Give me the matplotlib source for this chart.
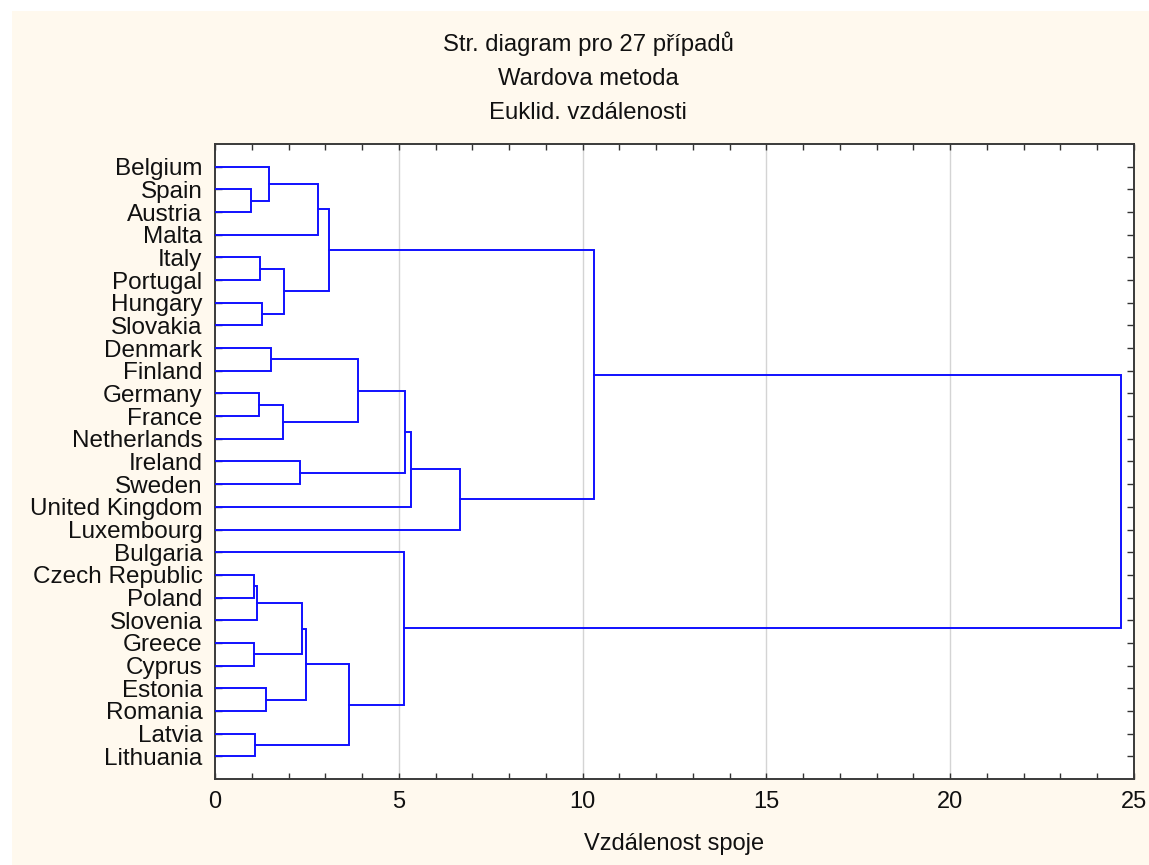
import matplotlib
matplotlib.use("Agg")
from matplotlib import pyplot as plt
from matplotlib.patches import Rectangle
import numpy as np

plt.rcParams['font.family'] = ['Liberation Sans', 'DejaVu Sans']

# listy stromu (shora dolu)
labels = ["Belgium", "Spain", "Austria", "Malta", "Italy", "Portugal", "Hungary",
          "Slovakia", "Denmark", "Finland", "Germany", "France", "Netherlands",
          "Ireland", "Sweden", "United Kingdom", "Luxembourg", "Bulgaria",
          "Czech Republic", "Poland", "Slovenia", "Greece", "Cyprus", "Estonia",
          "Romania", "Latvia", "Lithuania"]

# spojeni: indexy 0..26 jsou listy, 27.. jsou vznikle shluky
merge_left = [1, 0, 28, 4, 6, 30, 29, 8, 10, 35, 34, 13, 37, 39, 40, 33,
              18, 43, 21, 44, 23, 46, 25, 48, 17, 42]
merge_right = [2, 27, 3, 5, 7, 31, 32, 9, 11, 12, 36, 14, 38, 15, 16, 41,
               19, 20, 22, 45, 24, 47, 26, 49, 50, 51]
merge_height = [0.98, 1.48, 2.80, 1.23, 1.28, 1.87, 3.09, 1.53, 1.19, 1.86,
                3.90, 2.30, 5.17, 5.34, 6.66, 10.30, 1.05, 1.15, 1.06, 2.37,
                1.40, 2.47, 1.10, 3.65, 5.14, 24.64]

titulek = ["Str. diagram pro 27 případů", "Wardova metoda", "Euklid. vzdálenosti"]
x_ticks = [0, 5, 10, 15, 20, 25]

W, H = 1149, 865
fig = plt.figure(figsize=(W / 100, H / 100), dpi=100)
fig.patch.set_facecolor("white")
fig.patches.append(Rectangle((12 / W, 0), 1 - 12 / W, 1 - 11 / H,
                             transform=fig.transFigure, facecolor="#FFF9EE",
                             edgecolor="none", zorder=-10))

ax = fig.add_axes([215 / W, 86 / H, (1134 - 215) / W, (779 - 144) / H])
ax.set_facecolor("white")

n = len(labels)
pos_y = {i: i + 1 for i in range(n)}
pos_h = {i: 0.0 for i in range(n)}
for k, (a, b, h) in enumerate(zip(merge_left, merge_right, merge_height)):
    ya, yb = pos_y[a], pos_y[b]
    ax.plot([pos_h[a], h, h, pos_h[b]], [ya, ya, yb, yb], color="#1010FF",
            lw=1.4, solid_joinstyle="miter", zorder=3)
    pos_y[n + k] = (ya + yb) / 2
    pos_h[n + k] = h

ax.set_xlim(0, 25)
ax.set_ylim(n + 1, 0)

ax.set_yticks(np.arange(1, n + 1))
ax.set_yticklabels(labels, fontsize=17.5, color="#111111")
ax.set_xticks(x_ticks)
ax.set_xticklabels([str(t) for t in x_ticks], fontsize=17, color="#111111")
ax.set_xticks(np.arange(0, 26, 1), minor=True)

ax.tick_params(axis="x", which="both", direction="in", top=True, length=4,
               width=1, color="#333333")
ax.tick_params(axis="x", which="major", pad=9)
ax.tick_params(axis="y", direction="in", right=True, length=5, width=1,
               color="#333333", pad=9)

for v in x_ticks[1:-1]:
    ax.axvline(v, color="#D4D4D4", lw=1, zorder=1)

for s in ax.spines.values():
    s.set_color("#3A3A3A")
    s.set_linewidth(1.4)

ax.set_xlabel("Vzdálenost spoje", fontsize=17, color="#111111", labelpad=14)

for txt, base in zip(titulek, [51, 85, 119]):
    fig.text(588 / W, 1 - base / H, txt, ha="center", va="baseline",
             fontsize=17.2, color="#111111")

fig.savefig("out.png", dpi=100, facecolor=fig.get_facecolor())
